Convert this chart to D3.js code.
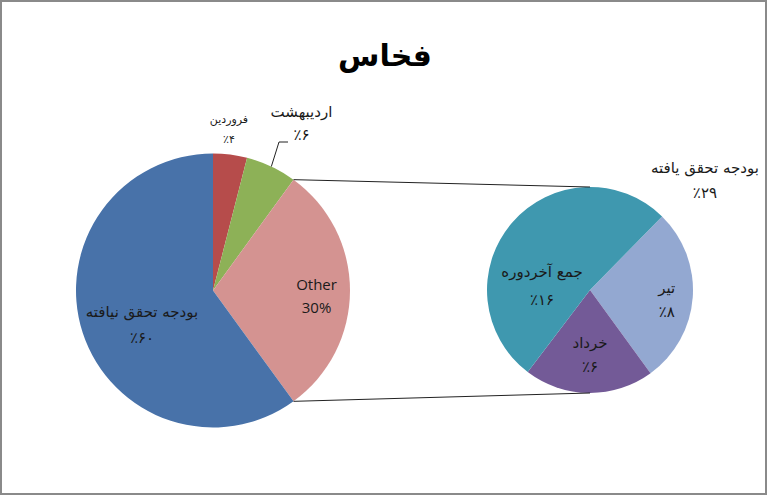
<!DOCTYPE html>
<html><head><meta charset="utf-8">
<script src="https://cdn.jsdelivr.net/npm/d3@7/dist/d3.min.js"></script>
<style>
html,body{margin:0;padding:0;background:#fff;}
svg{display:block;}
</style></head>
<body><svg id="chart" width="768" height="496"></svg>
<script>
// ---- data ----
const title = "فخاس";
const mainCategories = ["فروردین", "اردیبهشت", "Other", "بودجه تحقق نیافته"];
const mainValues = [4, 6, 30, 60];
const secCategories = ["تیر", "خرداد", "جمع آخردوره"];
const secValues = [8.3, 6.1, 15.6];
const noteCategory = ["بودجه تحقق یافته"];
const noteValue = [29];

// ---- layout / style ----
const mainColors = ["#B64C4B", "#8DB157", "#D49391", "#4872A9"];
const secColors = ["#93A8D1", "#735A97", "#3F98AF"];
const M = {cx: 213, cy: 290.5, r: 137};
const S = {cx: 590, cy: 290, r: 103, start: 44.4};
// label placement: [angleDeg, radius factor, font size, line gap]
const mainLabelPos = [[5.8, 1.156, 11, 20], [28.7, 1.345, 15, 23], [96.1, 0.76, 15, 23], [240.9, 0.593, 15, 26]];
const secLabelPos = [[100.8, 0.758, 15, 24], [180, 0.68, 15, 24], [268.8, 0.466, 15, 28]];
const noteLabelPos = [47.7, 1.509, 15, 25];

const fa = n => String(n).replace(/\d/g, d => "۰۱۲۳۴۵۶۷۸۹"[d]);
const pctFa = v => "٪" + fa(Math.round(v));
const rad = d => d * Math.PI / 180;
const polar = (c, deg, r) => [c.cx + r * Math.sin(rad(deg)), c.cy - r * Math.cos(rad(deg))];

const svg = d3.select("#chart");
svg.append("rect").attr("x", 1).attr("y", 1).attr("width", 765).attr("height", 493)
  .attr("fill", "#fff").attr("stroke", "#8a8a8a").attr("stroke-width", 2);

svg.append("text").attr("x", 385).attr("y", 66).attr("text-anchor", "middle")
  .attr("font-family", "DejaVu Sans").attr("font-weight", "bold").attr("font-size", 30)
  .attr("fill", "#000").text(title);

// main pie
const pieMain = d3.pie().sort(null).startAngle(0).endAngle(2 * Math.PI);
const arcsMain = pieMain(mainValues);
const arcM = d3.arc().innerRadius(0).outerRadius(M.r);
const gM = svg.append("g").attr("transform", `translate(${M.cx},${M.cy})`);
gM.selectAll("path").data(arcsMain).join("path").attr("d", arcM)
  .attr("fill", (d, i) => mainColors[i]);

// secondary pie
const pieSec = d3.pie().sort(null).startAngle(rad(S.start)).endAngle(rad(S.start) + 2 * Math.PI);
const arcsSec = pieSec(secValues);
const arcS = d3.arc().innerRadius(0).outerRadius(S.r);
const gS = svg.append("g").attr("transform", `translate(${S.cx},${S.cy})`);
gS.selectAll("path").data(arcsSec).join("path").attr("d", arcS)
  .attr("fill", (d, i) => secColors[i]);

// connector lines from "Other" slice edges to secondary pie
const other = arcsMain[2];
const pTop = polar(M, other.startAngle * 180 / Math.PI, M.r);
const pBot = polar(M, other.endAngle * 180 / Math.PI, M.r);
svg.append("line").attr("x1", pTop[0]).attr("y1", pTop[1]).attr("x2", S.cx).attr("y2", S.cy - S.r)
  .attr("stroke", "#222").attr("stroke-width", 1);
svg.append("line").attr("x1", pBot[0]).attr("y1", pBot[1]).attr("x2", S.cx).attr("y2", S.cy + S.r)
  .attr("stroke", "#222").attr("stroke-width", 1);

// leader line for اردیبهشت
const g2 = arcsMain[1];
const mid2 = (g2.startAngle + g2.endAngle) / 2 * 180 / Math.PI;
const lp0 = polar(M, mid2, M.r);
svg.append("polyline")
  .attr("points", [lp0, [279, 142], [288, 142]].map(p => p.join(",")).join(" "))
  .attr("fill", "none").attr("stroke", "#222").attr("stroke-width", 1);

function label(c, pos, name, valTxt, isLatin) {
  const [deg, k, fs, gap] = pos;
  const [x, y] = polar(c, deg, c.r * k);
  const fam = isLatin ? "Open Sans, DejaVu Sans, sans-serif" : "DejaVu Sans";
  svg.append("text").attr("x", x).attr("y", y - gap / 2).attr("text-anchor", "middle")
    .attr("font-family", fam).attr("font-size", fs).attr("fill", "#1a1a1a").text(name);
  svg.append("text").attr("x", x).attr("y", y + gap / 2).attr("text-anchor", "middle")
    .attr("font-family", fam).attr("font-size", fs).attr("fill", "#1a1a1a")
    .style("direction", "ltr").text(valTxt);
}
const mainTotal = d3.sum(mainValues);
mainCategories.forEach((n, i) => {
  const pct = mainValues[i] / mainTotal * 100;
  if (n === "Other") label(M, mainLabelPos[i], n, Math.round(pct) + "%", true);
  else label(M, mainLabelPos[i], n, pctFa(pct), false);
});
secCategories.forEach((n, i) => label(S, secLabelPos[i], n, pctFa(secValues[i] / mainTotal * 100), false));
label(S, noteLabelPos, noteCategory[0], pctFa(noteValue[0]), false);
</script></body></html>
